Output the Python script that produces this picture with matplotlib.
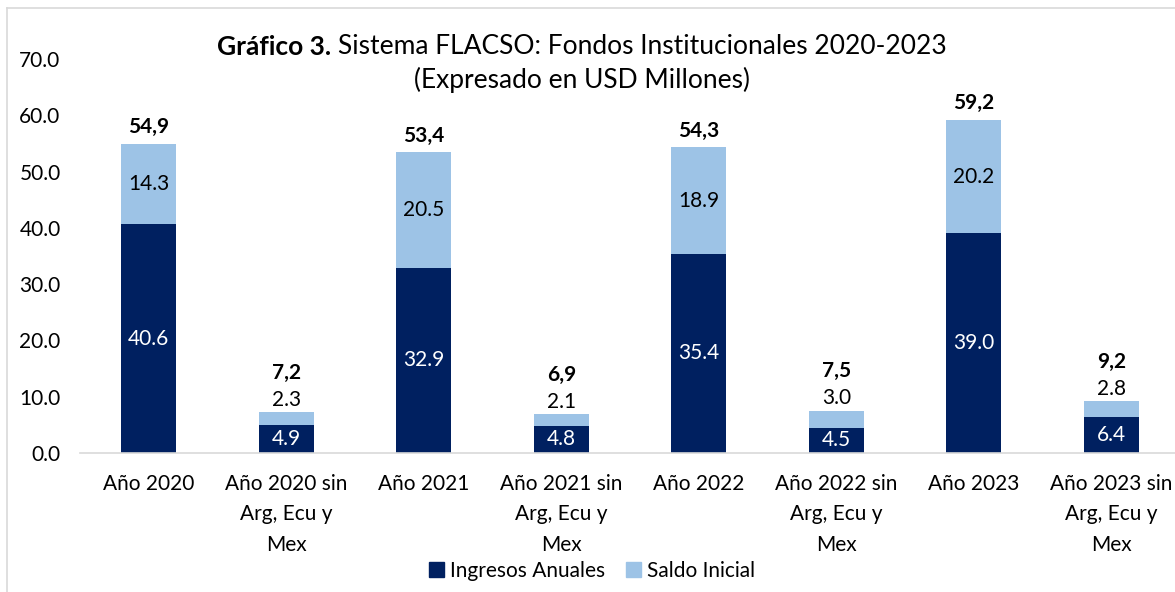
import matplotlib
matplotlib.use("Agg")
import matplotlib.pyplot as plt
from matplotlib.lines import Line2D
from matplotlib.patches import Patch

categories = ["Año 2020", "Año 2020 sin\nArg, Ecu y\nMex", "Año 2021", "Año 2021 sin\nArg, Ecu y\nMex",
              "Año 2022", "Año 2022 sin\nArg, Ecu y\nMex", "Año 2023", "Año 2023 sin\nArg, Ecu y\nMex"]
ingresos = [40.6, 4.9, 32.9, 4.8, 35.4, 4.5, 39.0, 6.4]
saldo = [14.3, 2.3, 20.5, 2.1, 18.9, 3.0, 20.2, 2.8]
yticks = [0, 10, 20, 30, 40, 50, 60, 70]

DARK = "#002060"
LIGHT = "#9DC3E6"
FONT = "Lato"
plt.rcParams["font.family"] = [FONT, "DejaVu Sans"]
FS = 15

W, H = 1175, 592
fig = plt.figure(figsize=(W / 100, H / 100), dpi=100)
ax = fig.add_axes([80 / W, (H - 453) / H, 1100 / W, (453 - 59) / H])

x = list(range(len(categories)))
ax.bar(x, ingresos, width=0.4, color=DARK, label="Ingresos Anuales", zorder=2)
ax.bar(x, saldo, width=0.4, bottom=ingresos, color=LIGHT, label="Saldo Inicial", zorder=2)

ax.set_xlim(-0.5, len(categories) - 0.5)
ax.set_ylim(0, 70)
ax.set_yticks(yticks)
ax.set_yticklabels([f"{v:.1f}" for v in yticks], fontsize=FS)
ax.set_xticks(x)
ax.set_xticklabels(categories, fontsize=FS, linespacing=1.65)
ax.tick_params(axis="both", length=0, colors="black")
ax.tick_params(axis="x", pad=15)
ax.tick_params(axis="y", pad=14)
for s in ["top", "right", "left"]:
    ax.spines[s].set_visible(False)
ax.spines["bottom"].set_color("#D9D9D9")
ax.spines["bottom"].set_linewidth(1.2)

for i in x:
    a, b = ingresos[i], saldo[i]
    tot = a + b
    big = a > 15
    ax.text(i, a / 2, f"{a:.1f}", ha="center", va="center", color="white", fontsize=FS, zorder=3)
    if big:
        ax.text(i, a + b / 2, f"{b:.1f}", ha="center", va="center", color="black", fontsize=FS, zorder=3)
        ax.text(i, tot + 2.95, f"{tot:.1f}".replace(".", ","), ha="center", va="center",
                color="black", fontsize=FS, fontweight="bold", zorder=3)
    else:
        ax.text(i, tot + 2.2, f"{b:.1f}", ha="center", va="center", color="black", fontsize=FS, zorder=3)
        ax.text(i, tot + 7.0, f"{tot:.1f}".replace(".", ","), ha="center", va="center",
                color="black", fontsize=FS, fontweight="bold", zorder=3)

# title
TFS = 19
t1 = fig.text(580 / W, (H - 47) / H, "Gráfico 3. ", ha="left", va="center", fontsize=TFS, fontweight="bold")
t2 = fig.text(580 / W, (H - 47) / H, "Sistema FLACSO: Fondos Institucionales 2020-2023", ha="left",
              va="center", fontsize=TFS)
fig.canvas.draw()
r = fig.canvas.get_renderer()
w1 = t1.get_window_extent(r).width
w2 = t2.get_window_extent(r).width
cx = 582
start = cx - (w1 + w2) / 2
t1.set_x(start / W)
t2.set_x((start + w1) / W)
fig.text(582 / W, (H - 80) / H, "(Expresado en USD Millones)", ha="center", va="center", fontsize=TFS)

# legend
handles = [Patch(color=DARK, label="Ingresos Anuales"), Patch(color=LIGHT, label="Saldo Inicial")]
fig.legend(handles=handles, loc="center", bbox_to_anchor=(592 / W, (H - 571) / H), ncol=2, frameon=False,
           fontsize=FS, handlelength=0.7, handleheight=0.7, handletextpad=0.3, columnspacing=1.0)

# outer border
fig.add_artist(Line2D([7 / W, 7 / W], [0, (H - 8) / H], color="#D9D9D9", lw=1.2, transform=fig.transFigure))
fig.add_artist(Line2D([7 / W, 1], [(H - 8) / H, (H - 8) / H], color="#D9D9D9", lw=1.2, transform=fig.transFigure))

fig.savefig("out.png", dpi=100)
